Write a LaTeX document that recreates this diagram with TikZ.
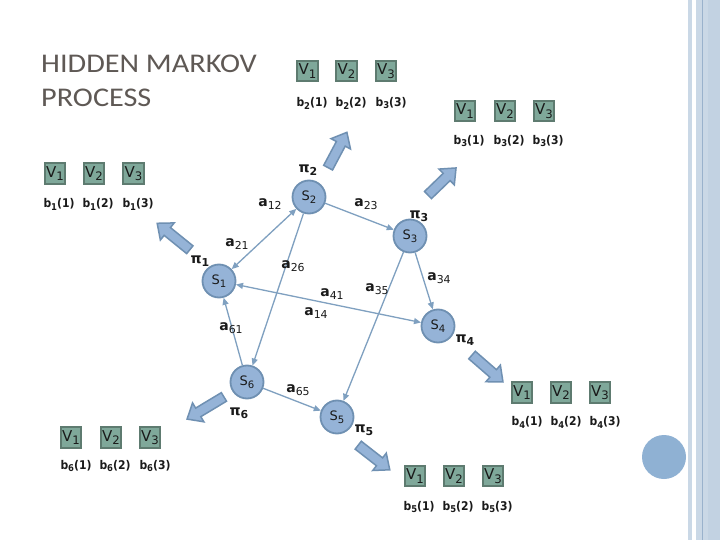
\documentclass[tikz,border=0pt]{standalone}
\usepackage{fontspec}
\setmainfont{DejaVu Sans}
\newfontfamily\titlefont{Carlito}
\newfontfamily\condfont{DejaVu Sans Condensed}
\usetikzlibrary{arrows.meta}
\definecolor{stfill}{HTML}{95B3D7}
\definecolor{stdraw}{HTML}{6F90B2}
\definecolor{conncol}{HTML}{7FA0C0}
\definecolor{vfill}{HTML}{7FA89A}
\definecolor{vdraw}{HTML}{5E7B70}
\definecolor{txt}{HTML}{1A1A1A}
\definecolor{titlecol}{HTML}{5F5955}
\definecolor{stripe}{HTML}{CAD8E6}
\definecolor{stripeb}{HTML}{C2D2E2}
\definecolor{stripeline}{HTML}{9AB2CC}
\definecolor{dotcol}{HTML}{8FB1D3}
\newcommand\dn[1]{\raisebox{-0.45ex}{\scalebox{0.78}{#1}}}
\newcommand\blockarrow[4]{%
  \begin{scope}[shift={(#1,#2)},rotate=#3]
    \draw[barrow] ({-#4/2},-5) -- ({#4/2-13},-5) -- ({#4/2-13},-11) -- ({#4/2},0) -- ({#4/2-13},11) -- ({#4/2-13},5) -- ({-#4/2},5) -- cycle;
  \end{scope}}
\begin{document}
\begin{tikzpicture}[x=1pt,y=-1pt,
  state/.style={circle, fill=stfill, draw=stdraw, line width=1.8pt, minimum size=33pt, inner sep=0pt, text=txt, font=\fontsize{13}{13}\selectfont},
  vbox/.style={rectangle, fill=vfill, draw=vdraw, line width=2.4pt, minimum size=20.5pt, inner sep=0pt, text=txt, font=\fontsize{15}{15}\selectfont},
  blab/.style={text=txt, inner sep=0pt, font=\condfont\bfseries\fontsize{12}{12}\selectfont},
  alab/.style={text=txt, inner sep=0pt, font=\bfseries\fontsize{14}{14}\selectfont},
  conn/.style={draw=conncol, line width=1.3pt},
  tipa/.style={-{Triangle[length=7pt,width=6pt]}},
  tipb/.style={{Triangle[length=7pt,width=6pt]}-{Triangle[length=7pt,width=6pt]}},
  barrow/.style={fill=stfill, draw=stdraw, line width=1.5pt, line join=miter}
]
\useasboundingbox (0,0) rectangle (720,540);
\fill[white] (0,0) rectangle (720,540);
% right stripes
\fill[stripe] (688,0) rectangle (692,540);
\fill[stripe] (696,0) rectangle (720,540);
\fill[stripeb] (708,0) rectangle (720,540);
\draw[stripeline, line width=0.8pt] (702,0) -- (702,540);
\node[circle, fill=dotcol, minimum size=44pt, inner sep=0pt] (dot) at (664,457) {};
% title
\node[anchor=west, text=titlecol, inner sep=0pt, font=\titlefont\fontsize{27}{27}\selectfont] (t1) at (41,64) {\scalebox{1.12}[1]{HIDDEN MARKOV}};
\node[anchor=west, text=titlecol, inner sep=0pt, font=\titlefont\fontsize{27}{27}\selectfont] (t2) at (41,98) {\scalebox{1.12}[1]{PROCESS}};
% block arrows
\blockarrow{173.5}{236.5}{141}{42}
\blockarrow{337.5}{150}{62}{40}
\blockarrow{442}{181.5}{44}{39}
\blockarrow{487.5}{368.5}{-41}{41}
\blockarrow{374}{457.5}{-38}{40}
\blockarrow{205.5}{408}{-149}{43}
% states
\node[state] (s1) at (219,281) {S\dn{1}};
\node[state] (s2) at (309,197) {S\dn{2}};
\node[state] (s3) at (410,236) {S\dn{3}};
\node[state] (s4) at (438,326) {S\dn{4}};
\node[state] (s5) at (337,417) {S\dn{5}};
\node[state] (s6) at (247,382) {S\dn{6}};
% connectors
\draw[conn, tipb] (s2) -- (s1);
\draw[conn, tipa] (s2) -- (s6);
\draw[conn, tipa] (s2) -- (s3);
\draw[conn, tipa] (s3) -- (s4);
\draw[conn, tipa] (s3) -- (s5);
\draw[conn, tipb] (s1) -- (s4);
\draw[conn, tipa] (s6) -- (s1);
\draw[conn, tipa] (s6) -- (s5);
% labels
\node[alab] (p2) at (308,170) {π\dn{2}};
\node[alab] (p3) at (419,216) {π\dn{3}};
\node[alab] (p1) at (200,261) {π\dn{1}};
\node[alab] (p4) at (465,340) {π\dn{4}};
\node[alab] (p6) at (239,413) {π\dn{6}};
\node[alab] (p5) at (364,430) {π\dn{5}};
\node[alab] (a12) at (270,204) {a\dn{\mdseries 12}};
\node[alab] (a23) at (366,204) {a\dn{\mdseries 23}};
\node[alab] (a21) at (237,244) {a\dn{\mdseries 21}};
\node[alab] (a26) at (293,266) {a\dn{\mdseries 26}};
\node[alab] (a34) at (439,278) {a\dn{\mdseries 34}};
\node[alab] (a35) at (377,289) {a\dn{\mdseries 35}};
\node[alab] (a41) at (332,294) {a\dn{\mdseries 41}};
\node[alab] (a14) at (316,313) {a\dn{\mdseries 14}};
\node[alab] (a61) at (231,328) {a\dn{\mdseries 61}};
\node[alab] (a65) at (298,390) {a\dn{\mdseries 65}};
% V groups
% group 1
\node[vbox] (g1v1) at (55,173.5) {V\dn{1}};
\node[vbox] (g1v2) at (94,173.5) {V\dn{2}};
\node[vbox] (g1v3) at (133.5,173.5) {V\dn{3}};
\node[blab] (g1b1) at (59,204) {b\dn{1}(1)};
\node[blab] (g1b2) at (98,204) {b\dn{1}(2)};
\node[blab] (g1b3) at (138,204) {b\dn{1}(3)};
% group 2
\node[vbox] (g2v1) at (307.5,71) {V\dn{1}};
\node[vbox] (g2v2) at (346.5,71) {V\dn{2}};
\node[vbox] (g2v3) at (386,71) {V\dn{3}};
\node[blab] (g2b1) at (312,103) {b\dn{2}(1)};
\node[blab] (g2b2) at (351,103) {b\dn{2}(2)};
\node[blab] (g2b3) at (391,103) {b\dn{3}(3)};
% group 3
\node[vbox] (g3v1) at (465,111) {V\dn{1}};
\node[vbox] (g3v2) at (505,111) {V\dn{2}};
\node[vbox] (g3v3) at (544,111) {V\dn{3}};
\node[blab] (g3b1) at (469,141) {b\dn{3}(1)};
\node[blab] (g3b2) at (509,141) {b\dn{3}(2)};
\node[blab] (g3b3) at (548,141) {b\dn{3}(3)};
% group 4
\node[vbox] (g4v1) at (522,392.5) {V\dn{1}};
\node[vbox] (g4v2) at (561,392.5) {V\dn{2}};
\node[vbox] (g4v3) at (600,392.5) {V\dn{3}};
\node[blab] (g4b1) at (527,422) {b\dn{4}(1)};
\node[blab] (g4b2) at (566,422) {b\dn{4}(2)};
\node[blab] (g4b3) at (605,422) {b\dn{4}(3)};
% group 5
\node[vbox] (g5v1) at (415,476) {V\dn{1}};
\node[vbox] (g5v2) at (454,476) {V\dn{2}};
\node[vbox] (g5v3) at (493,476) {V\dn{3}};
\node[blab] (g5b1) at (419,507) {b\dn{5}(1)};
\node[blab] (g5b2) at (458,507) {b\dn{5}(2)};
\node[blab] (g5b3) at (497,507) {b\dn{5}(3)};
% group 6
\node[vbox] (g6v1) at (71,437.5) {V\dn{1}};
\node[vbox] (g6v2) at (111,437.5) {V\dn{2}};
\node[vbox] (g6v3) at (150,437.5) {V\dn{3}};
\node[blab] (g6b1) at (76,466) {b\dn{6}(1)};
\node[blab] (g6b2) at (115,466) {b\dn{6}(2)};
\node[blab] (g6b3) at (155,466) {b\dn{6}(3)};
\end{tikzpicture}
\end{document}
